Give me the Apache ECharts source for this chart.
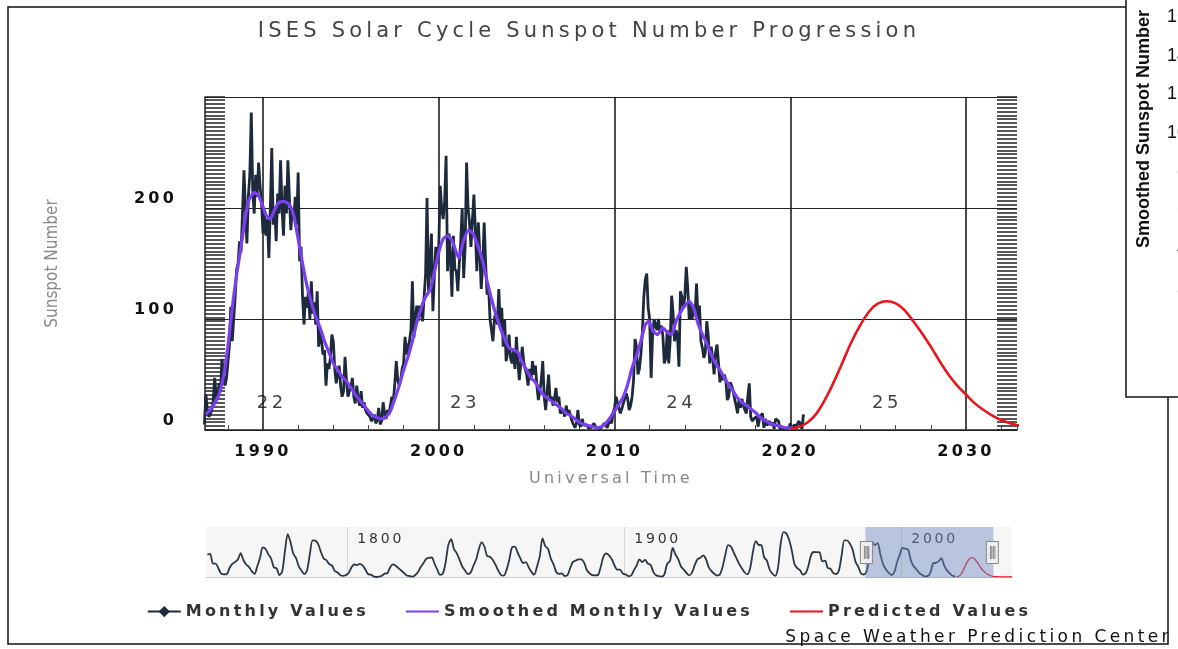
<!DOCTYPE html>
<html>
<head>
<meta charset="utf-8">
<title>ISES Solar Cycle Sunspot Number Progression</title>
<script src="https://cdn.jsdelivr.net/npm/echarts@6/dist/echarts.min.js"></script>
<style>
    html, body {margin: 0; padding: 0; background: #fff;}
    #main {width: 1178px; height: 649px;}
</style>
</head>
<body>
<div id="main"></div>
<script>
// monthly values, first month is Sep 1986
let monthlyStart = 1986 + 8 / 12
let monthlyValues = [
    5, 32, 18, 12,
    14, 18, 26, 47, 30, 28, 42, 35, 64, 50, 40, 46,
    60, 75, 111, 80, 100, 120, 145, 150, 170, 160, 195, 234,
    200, 168, 210, 230, 286, 215, 195, 230, 210, 241, 220, 205,
    177, 195, 175, 190, 155, 200, 254, 185, 200, 170, 213, 195,
    243, 200, 175, 220, 195, 243, 210, 180, 200, 190, 210, 185,
    232, 152, 165, 120, 95, 120, 110, 125, 100, 134, 105, 115,
    95, 125, 75, 90, 80, 68, 72, 40, 60, 55, 65, 86,
    80, 55, 42, 50, 58, 40, 30, 35, 66, 45, 30, 35,
    38, 47, 30, 24, 40, 28, 22, 35, 20, 25, 18, 15,
    15, 12, 8, 10, 14, 6, 9, 20, 5, 8, 25, 15,
    10, 18, 14, 22, 30, 26, 42, 62, 45, 40, 45, 55,
    60, 84, 68, 75, 80, 90, 134, 83, 100, 112, 98, 112,
    112, 98, 120, 140, 209, 125, 150, 177, 107, 140, 165, 150,
    165, 220, 200, 190, 205, 247, 143, 177, 155, 120, 175, 145,
    143, 125, 150, 170, 200, 137, 165, 241, 200, 187, 165, 190,
    212, 180, 143, 187, 160, 127, 150, 187, 150, 122, 130, 100,
    100, 80, 100, 106, 95, 127, 93, 110, 75, 100, 62, 70,
    86, 65, 60, 71, 55, 84, 62, 45, 60, 75, 62, 55,
    50, 40, 55, 45, 62, 50, 58, 40, 27, 35, 45, 62,
    30, 18, 35, 50, 28, 30, 22, 28, 38, 25, 30, 15,
    15, 18, 12, 22, 15, 18, 12, 8, 5, 2, 6, 18,
    5, 3, 10, 4, 3, 5, 2, 1, 2, 4, 6, 3,
    2, 1, 1, 2, 4, 6, 5, 2, 6, 8, 6, 15,
    20, 30, 25, 20, 15, 19, 24, 28, 33, 28, 18, 22,
    30, 45, 82, 75, 50, 55, 68, 88, 120, 135, 141, 110,
    100, 47, 85, 100, 95, 90, 100, 88, 94, 85, 60, 65,
    90, 60, 80, 121, 105, 80, 90, 85, 57, 125, 120, 110,
    120, 147, 128, 100, 115, 100, 110, 105, 132, 100, 112, 80,
    74, 65, 70, 98, 85, 60, 75, 65, 50, 70, 77, 60,
    43, 52, 45, 50, 45, 27, 30, 43, 40, 35, 28, 22,
    15, 28, 20, 28, 22, 18, 15, 30, 42, 12, 8, 10,
    9, 12, 3, 10, 13, 15, 2, 10, 4, 5, 8, 4,
    7, 1, 10, 9, 8, 1, 1, 1, 1, 1, 0, 2,
    6, 1, 2, 5, 1, 6, 8, 8, 1, 14
]

let smoothed = [
    [1986.75, 14], [1987.0, 18], [1987.25, 24], [1987.5, 32], [1987.75, 48], [1988.0, 75],
    [1988.25, 110], [1988.5, 140], [1988.75, 165], [1989.0, 192], [1989.2, 207], [1989.5, 214],
    [1989.75, 211], [1990.0, 201], [1990.2, 193], [1990.4, 190], [1990.65, 198], [1990.9, 205],
    [1991.2, 206], [1991.5, 203], [1991.75, 193], [1992.0, 172], [1992.25, 150], [1992.5, 130],
    [1992.75, 115], [1993.0, 102], [1993.25, 92], [1993.5, 80], [1993.75, 70], [1994.0, 60],
    [1994.25, 54], [1994.5, 48], [1994.75, 44], [1995.0, 38], [1995.25, 32], [1995.5, 27],
    [1995.75, 22], [1996.0, 17], [1996.25, 13], [1996.5, 11], [1996.75, 10], [1997.0, 12],
    [1997.25, 17], [1997.5, 28], [1997.75, 40], [1998.0, 54], [1998.25, 66], [1998.5, 80],
    [1998.75, 97], [1999.0, 110], [1999.25, 120], [1999.5, 126], [1999.75, 142], [2000.0, 160],
    [2000.25, 172], [2000.5, 175], [2000.75, 171], [2001.0, 160], [2001.15, 155], [2001.4, 170],
    [2001.7, 180], [2001.95, 177], [2002.25, 165], [2002.5, 152], [2002.75, 134], [2003.0, 118],
    [2003.25, 104], [2003.5, 92], [2003.75, 82], [2004.0, 74], [2004.25, 72], [2004.5, 70],
    [2004.75, 61], [2005.0, 54], [2005.25, 47], [2005.5, 43], [2005.75, 36], [2006.0, 31],
    [2006.25, 28], [2006.5, 25], [2006.75, 22], [2007.0, 19], [2007.25, 15], [2007.5, 13],
    [2007.75, 10], [2008.0, 7], [2008.25, 5], [2008.5, 4], [2008.75, 3], [2009.0, 2],
    [2009.25, 3], [2009.5, 6], [2009.75, 11], [2010.0, 17], [2010.25, 23], [2010.5, 30],
    [2010.75, 41], [2011.0, 56], [2011.25, 67], [2011.5, 80], [2011.75, 95], [2011.95, 98],
    [2012.2, 89], [2012.45, 86], [2012.75, 92], [2013.0, 88], [2013.25, 86], [2013.5, 98],
    [2013.75, 106], [2014.0, 112], [2014.25, 116], [2014.5, 110], [2014.75, 96], [2015.0, 86],
    [2015.25, 78], [2015.5, 68], [2015.75, 60], [2016.0, 54], [2016.25, 47], [2016.5, 41],
    [2016.75, 35], [2017.0, 29], [2017.25, 25], [2017.5, 22], [2017.75, 19], [2018.0, 16],
    [2018.25, 12], [2018.5, 9], [2018.75, 7], [2019.0, 5], [2019.25, 4], [2019.5, 3],
    [2019.75, 2], [2020.0, 2], [2020.15, 2]
]

let predicted = [
    [2020.0, 1.5], [2020.5, 3], [2021.0, 7], [2021.5, 15], [2022.0, 28], [2022.5, 44],
    [2023.0, 62], [2023.5, 80], [2024.0, 95], [2024.5, 107], [2025.0, 114], [2025.5, 116],
    [2026.0, 114], [2026.5, 108], [2027.0, 98], [2027.5, 87], [2028.0, 75], [2028.5, 62],
    [2029.0, 50], [2029.5, 40], [2030.0, 32], [2030.5, 24], [2031.0, 18], [2031.5, 13],
    [2032.0, 9], [2032.5, 6], [2033.0, 4], [2034.0, 2], [2036.0, 1], [2038.0, 0.5], [2040.0, 0.5]
]

// yearly means used in the overview strip, first year 1749
let historyStart = 1749
let historyValues = [
    134, 139, 80, 80, 51, 20, 16, 17, 54, 79, 90, 105, 143, 102, 75, 61, 35, 19, 63, 116,
    177, 168, 136, 111, 58, 51, 12, 33, 154, 257, 210, 141, 114, 64, 38, 17, 40, 138, 220, 218,
    197, 150, 111, 100, 78, 68, 36, 27, 11, 7, 11, 24, 57, 75, 72, 79, 70, 47, 17, 14,
    4, 0, 2, 8, 20, 23, 59, 76, 68, 53, 39, 24, 9, 6, 2, 11, 28, 60, 83, 109,
    115, 117, 81, 44, 13, 20, 86, 193, 227, 169, 143, 106, 63, 40, 18, 25, 66, 103, 166, 208,
    183, 126, 122, 103, 74, 39, 13, 8, 43, 104, 178, 182, 147, 112, 84, 89, 58, 31, 14, 63,
    124, 232, 185, 169, 110, 75, 28, 19, 21, 6, 10, 54, 91, 99, 106, 106, 86, 42, 22, 11,
    10, 12, 60, 122, 142, 130, 107, 69, 44, 44, 20, 16, 5, 9, 41, 70, 106, 90, 103, 81,
    73, 31, 10, 6, 2, 16, 79, 95, 174, 135, 106, 63, 44, 24, 10, 28, 74, 107, 115, 130,
    108, 59, 35, 19, 9, 15, 60, 133, 191, 183, 148, 113, 79, 51, 27, 16, 55, 154, 215, 193,
    191, 119, 98, 45, 20, 7, 54, 201, 269, 262, 225, 159, 76, 53, 40, 15, 22, 67, 133, 150,
    149, 148, 94, 98, 54, 49, 23, 18, 39, 131, 220, 219, 199, 162, 91, 61, 21, 15, 34, 123,
    211, 192, 203, 133, 76, 45, 25, 12, 29, 88, 136, 174, 170, 164, 99, 65, 46, 25, 13, 4,
    5, 25, 81, 85, 94, 113, 70, 40, 22, 7, 4
]

let cycleNames = ['22', '23', '24', '25']
let cycleYears = [1990.5, 2001.5, 2013.8, 2025.5]
let cycleLabelLevel = 24

let insetTicks = ['16', '14', '12', '10', '8', '6', '4', '2']

let legendNames = ['Monthly Values', 'Smoothed Monthly Values', 'Predicted Values']

let monthly = monthlyValues.map((v, i) => [monthlyStart + i / 12, v])
let history = historyValues.map((v, i) => [historyStart + i + 0.5, v])

let font = "'DejaVu Sans', Verdana, sans-serif"
let narrow = "'Liberation Sans Narrow', 'DejaVu Sans Condensed', sans-serif"

// the original page spaces its letters out; do the same for the DejaVu texts
let spacedFont = /DejaVu Sans(?! Condensed)/
let proto = CanvasRenderingContext2D.prototype
;['fillText', 'strokeText', 'measureText'].forEach(function (fn) {
    let orig = proto[fn]
    proto[fn] = function () {
        if ('letterSpacing' in this) {
            let m = spacedFont.test(this.font) && /([\d.]+)px/.exec(this.font)
            this.letterSpacing = m ? (parseFloat(m[1]) * 0.2).toFixed(1) + 'px' : '0px'
        }
        return orig.apply(this, arguments)
    }
})

let myChart = echarts.init(document.getElementById('main'))

let graphics = [
    {
        type: 'rect',
        shape: {x: 8, y: 7, width: 1160, height: 637},
        style: {fill: 'none', stroke: '#111', lineWidth: 1.5},
        z: 0,
        silent: true
    },
    {
        type: 'rect',
        shape: {x: 1126, y: -5, width: 60, height: 402},
        style: {fill: '#fff', stroke: '#111', lineWidth: 1.5},
        z: 50,
        silent: true
    },
    {
        type: 'text',
        x: 1144,
        y: 129,
        rotation: Math.PI / 2,
        style: {
            text: 'Smoothed Sunspot Number',
            font: "bold 18px 'Liberation Sans', Arial, sans-serif",
            fill: '#111',
            align: 'center',
            verticalAlign: 'middle'
        },
        z: 51,
        silent: true
    },
    {
        type: 'text',
        right: 6,
        top: 627,
        style: {
            text: 'Space Weather Prediction Center',
            font: '17px ' + font,
            fill: '#111'
        },
        z: 51,
        silent: true
    }
]
insetTicks.forEach((t, i) => {
    graphics.push({
        type: 'text',
        x: 1187,
        y: 17 + i * 38.6,
        style: {
            text: t,
            font: "18px 'Liberation Sans', Arial, sans-serif",
            fill: '#111',
            align: 'right',
            verticalAlign: 'middle'
        },
        z: 51,
        silent: true
    })
})

let hatchAxis = function (position) {
    return {
        type: 'value',
        gridIndex: 0,
        position: position,
        min: 0,
        max: 300,
        interval: 3.5,
        axisLine: {show: false},
        axisLabel: {show: false},
        splitLine: {show: false},
        axisTick: {show: true, inside: true, length: 20, lineStyle: {color: '#222', width: 1.5}}
    }
}

let option = {
    animation: false,
    backgroundColor: '#fff',
    title: {
        text: 'ISES Solar Cycle Sunspot Number Progression',
        left: 'center',
        top: 14,
        textStyle: {fontFamily: font, fontSize: 21, fontWeight: 'normal', color: '#444'}
    },
    legend: {
        data: [
            {name: legendNames[0]},
            {name: legendNames[1], itemStyle: {opacity: 0}},
            {name: legendNames[2], itemStyle: {opacity: 0}}
        ],
        left: 'center',
        top: 597,
        itemWidth: 33,
        itemHeight: 14,
        itemGap: 36,
        selectedMode: false,
        textStyle: {fontFamily: font, fontSize: 16, fontWeight: 'bold', color: '#333'}
    },
    grid: [
        {left: 205, right: 161, top: 97, height: 333},
        {left: 206, right: 166, top: 527, height: 50, show: true, backgroundColor: '#f6f6f6', borderWidth: 0}
    ],
    xAxis: [
        {
            type: 'value',
            gridIndex: 0,
            min: 1749,
            max: 2040,
            splitNumber: 5,
            name: 'Universal Time',
            nameLocation: 'middle',
            nameGap: 39,
            nameTextStyle: {fontFamily: font, fontSize: 16, color: '#888'},
            axisLine: {show: true, lineStyle: {color: '#222', width: 1.5}},
            axisTick: {show: true, inside: true, length: 5, lineStyle: {color: '#444'}},
            minorTick: {show: true, splitNumber: 5, length: 5, lineStyle: {color: '#444'}},
            splitLine: {show: true, showMinLine: false, showMaxLine: false, lineStyle: {color: '#111', width: 1.5}},
            axisLabel: {
                margin: 12,
                fontFamily: font,
                fontSize: 16,
                fontWeight: 'bold',
                color: '#111',
                formatter: (v) => (Math.abs(v % 10) < 1e-6 ? String(v) : '')
            }
        },
        {
            type: 'value',
            gridIndex: 1,
            min: 1749,
            max: 2040,
            splitNumber: 3,
            position: 'top',
            axisLine: {show: true, lineStyle: {color: '#ccc', width: 1}},
            axisTick: {show: false},
            splitLine: {show: true, showMinLine: false, showMaxLine: false, lineStyle: {color: '#d4d4d4', width: 1}},
            axisLabel: {
                inside: true,
                margin: 4,
                align: 'left',
                padding: [0, 0, 0, 10],
                fontFamily: font,
                fontSize: 14,
                color: '#333',
                formatter: (v) => (Math.abs(v % 100) < 1e-6 ? String(v) : '')
            }
        }
    ],
    yAxis: [
        {
            type: 'value',
            gridIndex: 0,
            min: 0,
            max: 300,
            interval: 100,
            name: 'Sunspot Number',
            nameLocation: 'middle',
            nameGap: 144,
            nameTextStyle: {fontFamily: narrow, fontSize: 17, color: '#888'},
            axisLine: {show: true, lineStyle: {color: '#222', width: 1.5}},
            axisTick: {show: false},
            splitLine: {show: true, lineStyle: {color: '#222', width: 1.2}},
            axisLabel: {
                margin: 28,
                verticalAlign: 'bottom',
                fontFamily: font,
                fontSize: 16,
                fontWeight: 'bold',
                color: '#111',
                formatter: (v) => (v < 300 ? String(v) : '')
            }
        },
        hatchAxis('left'),
        hatchAxis('right'),
        {
            type: 'value',
            gridIndex: 1,
            min: 0,
            max: 300,
            show: false
        }
    ],
    dataZoom: [
        {
            type: 'slider',
            xAxisIndex: 0,
            filterMode: 'none',
            startValue: 1986.7,
            endValue: 2032.9,
            left: 206,
            right: 166,
            top: 527,
            height: 51,
            showDataShadow: false,
            showDetail: false,
            brushSelect: false,
            moveHandleSize: 0,
            backgroundColor: 'transparent',
            borderColor: 'transparent',
            fillerColor: 'rgba(110, 135, 195, 0.45)',
            handleIcon: 'path://M0,0H12V22H0Z M4,5V17H5.5V5Z M7,5V17H8.5V5Z',
            handleSize: 22,
            handleStyle: {color: '#eeeeee', borderColor: '#888', borderWidth: 1}
        }
    ],
    series: [
        {
            name: 'Monthly Values',
            type: 'line',
            xAxisIndex: 0,
            yAxisIndex: 0,
            data: monthly,
            symbol: 'diamond',
            symbolSize: 9,
            showSymbol: false,
            itemStyle: {color: '#1d2a3b'},
            lineStyle: {color: '#1d2a3b', width: 2.8},
            z: 3
        },
        {
            name: 'Smoothed Monthly Values',
            type: 'line',
            xAxisIndex: 0,
            yAxisIndex: 0,
            data: smoothed,
            symbol: 'none',
            smooth: 0.2,
            itemStyle: {color: '#7b3ff2'},
            lineStyle: {color: '#7b3ff2', width: 3.2},
            z: 4
        },
        {
            name: 'Predicted Values',
            type: 'line',
            xAxisIndex: 0,
            yAxisIndex: 0,
            data: predicted,
            symbol: 'none',
            smooth: 0.3,
            itemStyle: {color: '#e8151c'},
            lineStyle: {color: '#e8151c', width: 2.6},
            z: 4
        },
        {
            name: 'cycles',
            type: 'scatter',
            xAxisIndex: 0,
            yAxisIndex: 0,
            symbolSize: 0,
            silent: true,
            data: cycleNames.map((c, i) => ({name: c, value: [cycleYears[i], cycleLabelLevel]})),
            label: {
                show: true,
                position: 'inside',
                formatter: '{b}',
                fontFamily: font,
                fontSize: 18,
                color: '#111'
            },
            z: 5
        },
        {
            name: 'overview',
            type: 'line',
            xAxisIndex: 1,
            yAxisIndex: 3,
            data: history,
            symbol: 'none',
            smooth: 0.3,
            silent: true,
            lineStyle: {color: '#2c3846', width: 1.8}
        },
        {
            name: 'overview prediction',
            type: 'line',
            xAxisIndex: 1,
            yAxisIndex: 3,
            data: predicted,
            symbol: 'none',
            smooth: 0.3,
            silent: true,
            lineStyle: {color: '#e8151c', width: 1.3}
        }
    ],
    graphic: graphics
}

myChart.setOption(option)
</script>
</body>
</html>
